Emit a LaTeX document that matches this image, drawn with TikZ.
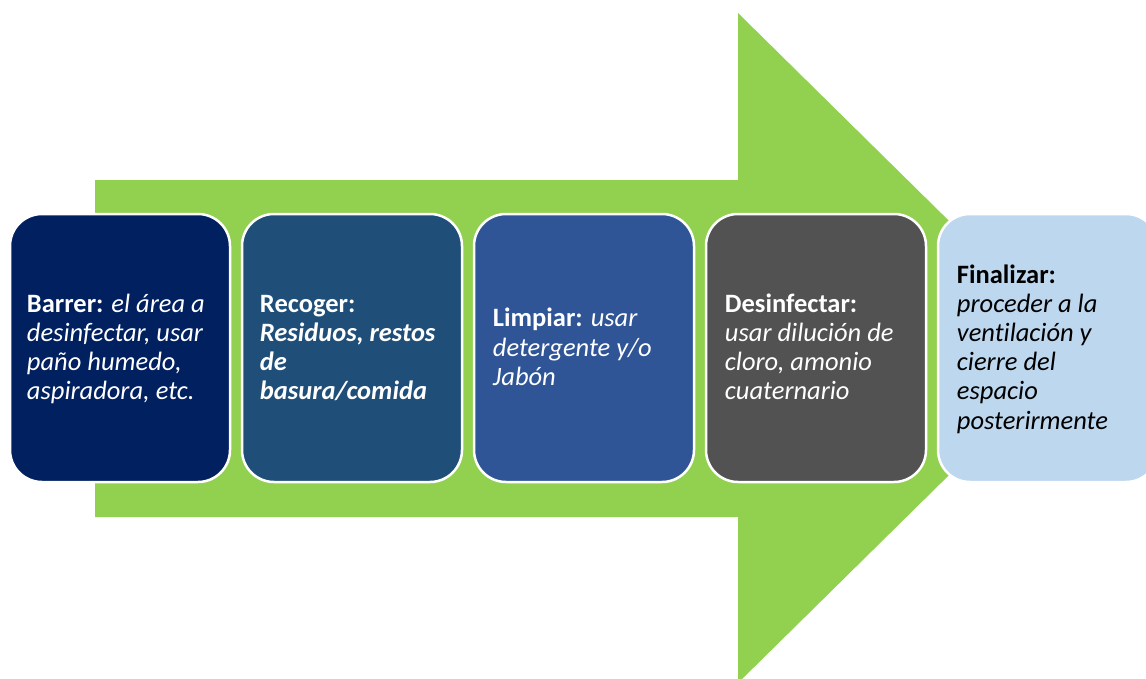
\documentclass[tikz,border=0pt]{standalone}
\usepackage{fontspec}
\setmainfont{Carlito}[Ligatures=NoCommon]
\definecolor{arrowgreen}{HTML}{92D050}
\definecolor{cone}{HTML}{002060}
\definecolor{ctwo}{HTML}{1F4E79}
\definecolor{cthree}{HTML}{2F5597}
\definecolor{cfour}{HTML}{525252}
\definecolor{cfive}{HTML}{BDD7EE}
\begin{document}
\begin{tikzpicture}[x=1pt,y=-1pt,
  stepbox/.style={draw=white, line width=2.5pt, rounded corners=32pt, minimum width=220pt, minimum height=268pt, inner sep=0pt},
  steptext/.style={anchor=base west, align=left, inner sep=0pt, font=\fontsize{26.5}{29.2}\selectfont}]
\useasboundingbox (0,0) rectangle (1146,678);
\clip (0,0) rectangle (1146,678);
\fill[arrowgreen] (95,180) -- (738,180) -- (738,13) -- (1078,348) -- (738,683) -- (738,517) -- (95,517) -- cycle;
\node[stepbox, fill=cone] (b1) at (120,348) {};
\node[stepbox, fill=ctwo] (b2) at (352,348) {};
\node[stepbox, fill=cthree] (b3) at (584,348) {};
\node[stepbox, fill=cfour] (b4) at (816,348) {};
\node[stepbox, fill=cfive] (b5) at (1048,348) {};
\node[steptext, text=white] (t1) at ([xshift=18pt,yshift=-51.8pt]b1.west)
  {\textbf{Barrer:} \textit{el área a}\\ \textit{desinfectar, usar}\\ \textit{paño humedo,}\\ \textit{aspiradora, etc.}};
\node[steptext, text=white] (t2) at ([xshift=19pt,yshift=-51.8pt]b2.west)
  {\textbf{Recoger:}\\ \textbf{\textit{Residuos, restos}}\\ \textbf{\textit{de}}\\ \textbf{\textit{basura/comida}}};
\node[steptext, text=white] (t3) at ([xshift=20pt,yshift=-37.2pt]b3.west)
  {\textbf{Limpiar:} \textit{usar}\\ \textit{detergente y/o}\\ \textit{Jabón}};
\node[steptext, text=white] (t4) at ([xshift=20pt,yshift=-51.8pt]b4.west)
  {\textbf{Desinfectar:}\\ \textit{usar dilución de}\\ \textit{cloro, amonio}\\ \textit{cuaternario}};
\node[steptext, text=black] (t5) at ([xshift=20pt,yshift=-81pt]b5.west)
  {\textbf{Finalizar:}\\ \textit{proceder a la}\\ \textit{ventilación y}\\ \textit{cierre del}\\ \textit{espacio}\\ \textit{posterirmente}};
\end{tikzpicture}
\end{document}
